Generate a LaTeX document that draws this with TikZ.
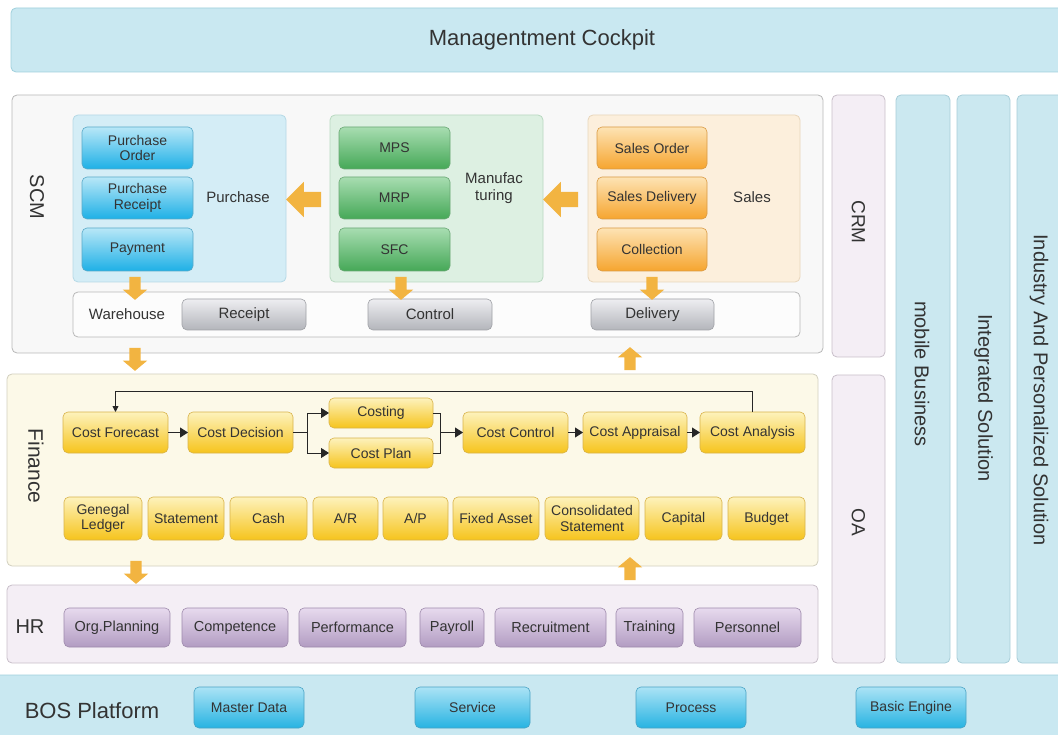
\documentclass[tikz,border=0pt]{standalone}
\usepackage{fontspec}
\setmainfont{Liberation Sans}
\usetikzlibrary{shapes.arrows,arrows.meta}
\definecolor{txt}{HTML}{333333}
\definecolor{barfill}{HTML}{C9E8F1}
\definecolor{barline}{HTML}{9FCFDC}
\definecolor{scmfill}{HTML}{F8F8F8}
\definecolor{scmline}{HTML}{B8B8B8}
\definecolor{purfill}{HTML}{D4EDF6}
\definecolor{purline}{HTML}{B5D9E6}
\definecolor{manfill}{HTML}{DDF0E2}
\definecolor{manline}{HTML}{B9D9C1}
\definecolor{salfill}{HTML}{FCEFDC}
\definecolor{salline}{HTML}{E8D6BB}
\definecolor{finfill}{HTML}{FCF9E8}
\definecolor{finline}{HTML}{D2CFBF}
\definecolor{hrfill}{HTML}{F4EEF5}
\definecolor{hrline}{HTML}{C8BFC9}
\definecolor{colfill}{HTML}{CBE8F0}
\definecolor{colline}{HTML}{A8CDD8}
\definecolor{arr}{HTML}{F2B441}
\definecolor{bluetop}{HTML}{B8E7F7}
\definecolor{bluebot}{HTML}{1EB0E6}
\definecolor{blueline}{HTML}{5AA9C8}
\definecolor{greentop}{HTML}{A8DDB1}
\definecolor{greenbot}{HTML}{45A857}
\definecolor{greenline}{HTML}{6AA774}
\definecolor{orangetop}{HTML}{FDE3B4}
\definecolor{orangebot}{HTML}{F6A52F}
\definecolor{orangeline}{HTML}{D99A44}
\definecolor{graytop}{HTML}{EEEEF1}
\definecolor{graybot}{HTML}{B3B5BB}
\definecolor{grayline}{HTML}{9FA1A6}
\definecolor{yeltop}{HTML}{FDF2BC}
\definecolor{yelbot}{HTML}{F6C41C}
\definecolor{yelline}{HTML}{D8B34A}
\definecolor{purtop}{HTML}{E7DAEE}
\definecolor{purbot}{HTML}{B29CC2}
\definecolor{purbline}{HTML}{9E8AAC}
\definecolor{bostop}{HTML}{ABE3F5}
\definecolor{bosbot}{HTML}{27B3E2}
\definecolor{bosline}{HTML}{4AA3C4}
\newcommand\bx[7]{\node[#2, minimum width={(#5-#3)*1pt}, minimum height={(#6-#4)*1pt}] (#1) at ({(#3+#5)/2},{(#4+#6)/2}) {#7};}
\newcommand\fs[1]{\fontsize{#1}{#1}\selectfont\baselineskip=1.12\baselineskip}
\begin{document}
\begin{tikzpicture}[x=1pt,y=-1pt,
  every node/.style={inner sep=0pt, outer sep=0pt, text=txt, align=center},
  panel/.style={draw, rounded corners=5pt, line width=0.8pt},
  bar/.style={panel, fill=barfill, draw=barline},
  scmbox/.style={panel, fill=scmfill, draw=scmline},
  purpanel/.style={panel, fill=purfill, draw=purline},
  manpanel/.style={panel, fill=manfill, draw=manline},
  salpanel/.style={panel, fill=salfill, draw=salline},
  whrow/.style={panel, fill=white!60!scmfill, draw=scmline},
  finbox/.style={panel, fill=finfill, draw=finline},
  hrbox/.style={panel, fill=hrfill, draw=hrline},
  sidebox/.style={panel, fill=hrfill, draw=hrline},
  colbox/.style={panel, fill=colfill, draw=colline},
  item/.style={draw, rounded corners=5pt, line width=0.6pt, font=\fs{14}},
  bluei/.style={item, top color=bluetop, bottom color=bluebot, draw=blueline},
  greeni/.style={item, top color=greentop, bottom color=greenbot, draw=greenline},
  orangei/.style={item, top color=orangetop, bottom color=orangebot, draw=orangeline},
  grayi/.style={item, top color=graytop, bottom color=graybot, draw=grayline, font=\fs{15}},
  yeli/.style={item, top color=yeltop, bottom color=yelbot, draw=yelline},
  purplei/.style={item, top color=purtop, bottom color=purbot, draw=purbline, font=\fs{14.5}},
  bosi/.style={item, top color=bostop, bottom color=bosbot, draw=bosline},
  biglbl/.style={font=\fs{20}},
  plbl/.style={font=\fs{15}},
  bigarrow/.style={single arrow, fill=arr, draw=none, inner xsep=0pt, inner ysep=7.5pt,
     single arrow head extend=10pt, minimum height=35pt, single arrow tip angle=90},
  smallarrow/.style={single arrow, fill=arr, draw=none, inner xsep=0pt, inner ysep=5.5pt,
     single arrow head extend=6.5pt, minimum height=23pt, single arrow tip angle=100},
  link/.style={line width=0.9pt, draw=black!85},
  tip/.style={-{Triangle[length=8pt,width=10pt]}}
]
\useasboundingbox (0,0) rectangle (1058,735);
% ---------- top bar ----------
\bx{cockpit}{bar}{11}{8}{1075}{72}{}
\node[font=\fs{22}] (cockpitlbl) at (542,40) {Managentment Cockpit};
% ---------- SCM ----------
\bx{scm}{scmbox}{12}{95}{823}{353}{}
\node[biglbl, rotate=-90] (scmlbl) at (37,197) {SCM};
\bx{purch}{purpanel}{73}{115}{286}{282}{}
\bx{manuf}{manpanel}{330}{115}{543}{282}{}
\bx{sales}{salpanel}{588}{115}{800}{282}{}
\bx{po}{bluei}{82}{127}{193}{169}{Purchase\\Order}
\bx{pr}{bluei}{82}{177}{193}{219}{Purchase\\Receipt}
\bx{pay}{bluei}{82}{228}{193}{271}{Payment}
\node[plbl] (purchlbl) at (238,197) {Purchase};
\bx{mps}{greeni}{339}{127}{450}{169}{MPS}
\bx{mrp}{greeni}{339}{177}{450}{219}{MRP}
\bx{sfc}{greeni}{339}{228}{450}{271}{SFC}
\node[plbl] (manuflbl) at (494,188) {Manufac\\turing};
\bx{so}{orangei}{597}{127}{707}{169}{Sales Order}
\bx{sd}{orangei}{597}{177}{707}{219}{Sales Delivery}
\bx{col}{orangei}{597}{228}{707}{271}{Collection}
\node[plbl] (saleslbl) at (752,197) {Sales};
\bx{wh}{whrow}{73}{292}{800}{337}{}
\node[plbl] (whlbl) at (127,314) {Warehouse};
\bx{rec}{grayi}{182}{299}{306}{330}{Receipt}
\bx{ctl}{grayi}{368}{299}{492}{330}{Control}
\bx{del}{grayi}{591}{299}{714}{330}{Delivery}
% block arrows in SCM
\node[bigarrow, rotate=180] (a1) at (307.5,199.5) {};
\node[bigarrow, rotate=180] (a2) at (564.5,199.5) {};
\node[smallarrow, rotate=-90] (a3) at (135,286) {};
\node[smallarrow, rotate=-90] (a4) at (401,286) {};
\node[smallarrow, rotate=-90] (a5) at (652,286) {};
% between SCM and Finance
\node[smallarrow, rotate=-90] (a6) at (135,357) {};
\node[smallarrow, rotate=90] (a7) at (630,361) {};
% ---------- Finance ----------
\bx{fin}{finbox}{7}{374}{818}{566}{}
\node[font=\fs{21}, rotate=-90] (finlbl) at (36,466) {Finance};
\bx{cf}{yeli}{63}{412}{168}{453}{Cost Forecast}
\bx{cd}{yeli}{188}{412}{293}{453}{Cost Decision}
\bx{cst}{yeli}{329}{398}{433}{428}{Costing}
\bx{cpl}{yeli}{329}{438}{433}{468}{Cost Plan}
\bx{cc}{yeli}{463}{412}{568}{453}{Cost Control}
\bx{capp}{yeli}{583}{412}{687}{453}{Cost Appraisal}
\bx{can}{yeli}{700}{412}{805}{453}{Cost Analysis}
\draw[link, tip] (cf.east) -- (cd.west);
\draw[link] (cd.east) -- ++(14,0) coordinate (split);
\draw[link, tip] (split) |- (cst.west);
\draw[link, tip] (split) |- (cpl.west);
\draw[link] (cst.east) -- ++(7,0) coordinate (b1) -- (b1 |- cpl.east) -- (cpl.east);
\draw[link, tip] (b1 |- cc.west) -- (cc.west);
\draw[link, tip] (cc.east) -- (capp.west);
\draw[link, tip] (capp.east) -- (can.west);
\draw[link, -{Triangle[length=6pt,width=6pt]}] (can.north) -- ++(0,-21) coordinate (fb) -| (cf.north);
\bx{gl}{yeli}{64}{497}{142}{540}{Genegal\\Ledger}
\bx{stm}{yeli}{148}{497}{224}{540}{Statement}
\bx{cash}{yeli}{230}{497}{307}{540}{Cash}
\bx{ar}{yeli}{313}{497}{378}{540}{A/R}
\bx{ap}{yeli}{383}{497}{448}{540}{A/P}
\bx{fa}{yeli}{453}{497}{539}{540}{Fixed Asset}
\bx{cs}{yeli}{545}{497}{639}{540}{Consolidated\\Statement}
\bx{capi}{yeli}{645}{497}{722}{540}{Capital}
\bx{bud}{yeli}{728}{497}{805}{540}{Budget}
% between Finance and HR
\node[smallarrow, rotate=-90] (a8) at (136,570) {};
\node[smallarrow, rotate=90] (a9) at (630,571) {};
% ---------- HR ----------
\bx{hr}{hrbox}{7}{585}{818}{663}{}
\node[font=\fs{20}] (hrlbl) at (30,627) {HR};
\bx{op}{purplei}{64}{608}{170}{647}{Org.Planning}
\bx{cmp}{purplei}{182}{608}{288}{647}{Competence}
\bx{perf}{purplei}{299}{608}{406}{647}{Performance}
\bx{payr}{purplei}{420}{608}{484}{647}{Payroll}
\bx{recr}{purplei}{495}{608}{606}{647}{Recruitment}
\bx{trn}{purplei}{616}{608}{683}{647}{Training}
\bx{pers}{purplei}{694}{608}{801}{647}{Personnel}
% ---------- side columns ----------
\bx{crm}{sidebox}{832}{95}{885}{357}{}
\node[font=\fs{19}, rotate=-90] (crmlbl) at (858.5,222) {CRM};
\bx{oa}{sidebox}{832}{375}{885}{663}{}
\node[font=\fs{19}, rotate=-90] (oalbl) at (858.5,522) {OA};
\bx{mob}{colbox}{896}{95}{950}{663}{}
\node[font=\fs{20}, rotate=-90] (moblbl) at (922,374) {mobile Business};
\bx{integ}{colbox}{957}{95}{1010}{663}{}
\node[font=\fs{20}, rotate=-90] (integlbl) at (983.5,398) {Integrated Solution};
\bx{indus}{colbox}{1017}{95}{1075}{663}{}
\node[font=\fs{20}, rotate=-90] (induslbl) at (1039,390) {Industry And Personalized Solution};
% ---------- BOS ----------
\bx{bos}{bar}{-10}{675}{1075}{745}{}
\node[font=\fs{22}] (boslbl) at (92,711) {BOS Platform};
\bx{md}{bosi}{194}{687}{304}{728}{Master Data}
\bx{svc}{bosi}{415}{687}{530}{728}{Service}
\bx{proc}{bosi}{636}{687}{746}{728}{Process}
\bx{be}{bosi}{856}{687}{966}{728}{Basic Engine}
\end{tikzpicture}
\end{document}
